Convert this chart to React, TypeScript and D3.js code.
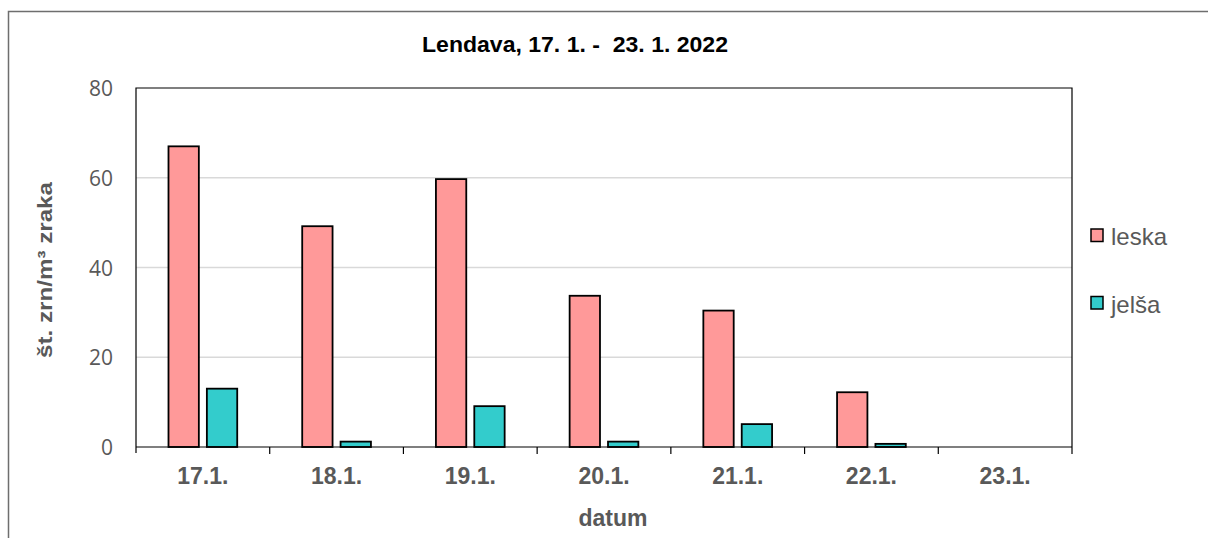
import React from "react";
import * as d3 from "d3";

const categories = ["17.1.", "18.1.", "19.1.", "20.1.", "21.1.", "22.1.", "23.1."];
const leska = [67, 49.2, 59.7, 33.7, 30.4, 12.2, 0];
const jelsa = [13, 1.2, 9.1, 1.2, 5.1, 0.7, 0];
const seriesNames = ["leska", "jelša"];
const seriesColors = ["#FF9999", "#33CCCC"];
const yTicks = [0, 20, 40, 60, 80];
const title = "Lendava, 17. 1. -  23. 1. 2022";
const yLabel = "št. zrn/m³ zraka";
const xLabel = "datum";

export default function App() {
  const W = 1208, H = 538;
  const left = 136, right = 1072, top = 88, bottom = 447;
  const x = d3.scaleBand<string>().domain(categories).range([left, right]).paddingInner(0).paddingOuter(0);
  const y = d3.scaleLinear().domain([0, 80]).range([bottom, top]);
  const bw = x.bandwidth();
  const barW = bw * 0.227;
  const gap = bw * 0.06;
  const groupW = barW * 2 + gap;
  const off = (bw - groupW) / 2;
  const series = [leska, jelsa];
  const font = "'Liberation Sans', Arial, sans-serif";
  return (
    <svg width={W} height={H} style={{ position: "absolute", left: 0, top: 0 }}>
      <rect x={0} y={0} width={W} height={H} fill="#fff" />
      <rect x={8.5} y={11.5} width={1260} height={600} fill="none" stroke="#6e6e6e" strokeWidth={1.5} />
      <text x={575} y={52} textAnchor="middle" fontFamily={font} fontWeight="bold" fontSize={22} fill="#000" textLength={306} lengthAdjust="spacingAndGlyphs" style={{ whiteSpace: "pre" }}>{title}</text>
      {yTicks.filter(t => t > 0 && t < 80).map(t => (
        <line key={t} x1={left} x2={right} y1={y(t)} y2={y(t)} stroke="#d9d9d9" strokeWidth={1.5} />
      ))}
      {series.map((vals, si) => vals.map((v, i) => (
        v > 0 ? (
          <rect key={si + "-" + i}
            x={(x(categories[i]) as number) + off + si * (barW + gap)}
            y={y(v)} width={barW} height={y(0) - y(v)}
            fill={seriesColors[si]} stroke="#000" strokeWidth={1.8} />
        ) : null
      )))}
      <path d={`M${left},${bottom}V${top}H${right}V${bottom}`} fill="none" stroke="#000" strokeWidth={1.2} />
      <line x1={left} x2={right} y1={bottom} y2={bottom} stroke="#000" strokeWidth={1.2} />
      <line x1={left} x2={left} y1={bottom} y2={bottom + 6} stroke="#000" strokeWidth={1.2} />
      {categories.map(c => (
        <line key={c} x1={(x(c) as number) + bw} x2={(x(c) as number) + bw} y1={bottom} y2={bottom + 7} stroke="#000" strokeWidth={1.2} />
      ))}
      {yTicks.map(t => (
        <text key={t} x={113} y={y(t) + 8} textAnchor="end" fontFamily="'Open Sans', sans-serif" fontSize={21} fill="#595959">{t}</text>
      ))}
      {categories.map(c => (
        <text key={c} x={(x(c) as number) + bw / 2} y={484} textAnchor="middle" fontFamily={font} fontWeight="bold" fontSize={23} fill="#595959">{c}</text>
      ))}
      <text x={613} y={526} textAnchor="middle" fontFamily={font} fontWeight="bold" fontSize={23} fill="#595959">{xLabel}</text>
      <text transform={`translate(52,270) rotate(-90)`} textAnchor="middle" fontFamily={font} fontWeight="bold" fontSize={21} fill="#595959" textLength={176} lengthAdjust="spacingAndGlyphs">{yLabel}</text>
      {seriesNames.map((n, i) => (
        <g key={n} transform={`translate(0,${i * 67.5})`}>
          <rect x={1091} y={229} width={12} height={12.5} fill={seriesColors[i]} stroke="#000" strokeWidth={1.5} />
          <text x={1111} y={245} fontFamily={font} fontSize={24} fill="#595959">{n}</text>
        </g>
      ))}
    </svg>
  );
}
